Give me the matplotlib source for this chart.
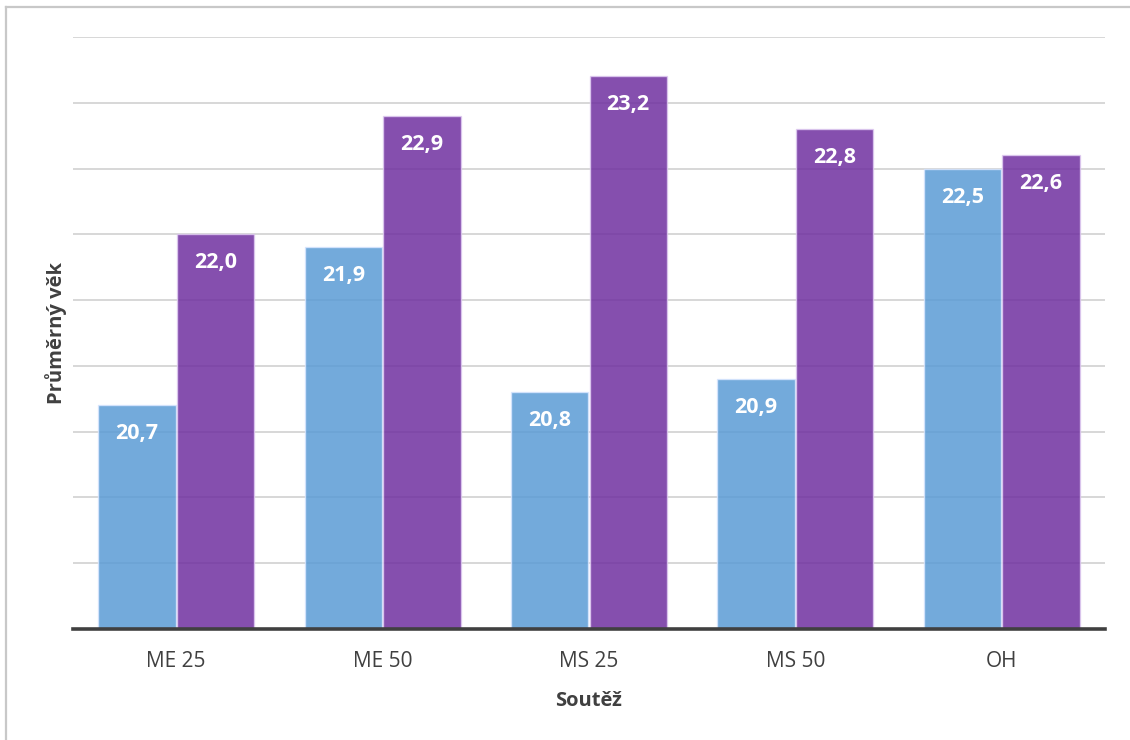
import matplotlib
matplotlib.use("Agg")
import matplotlib.pyplot as plt
from matplotlib.lines import Line2D
import numpy as np

plt.rcParams['font.family'] = ['Open Sans', 'DejaVu Sans']

categories = ["ME 25", "ME 50", "MS 25", "MS 50", "OH"]
series_a = [20.7, 21.9, 20.8, 20.9, 22.5]
series_b = [22.0, 22.9, 23.2, 22.8, 22.6]
y_min, y_max, y_step = 19.0, 23.5, 0.5

W, H, DPI = 1130, 740, 100
fig = plt.figure(figsize=(W / DPI, H / DPI), dpi=DPI)
ax = fig.add_axes([73 / W, 1 - 629 / H, (1105 - 73) / W, (629 - 37) / H])

x = np.arange(len(categories))
bw = 0.375
off = 0.19
blue = (0x5B / 255, 0x9B / 255, 0xD5 / 255, 0.85)
purple = (0x70 / 255, 0x30 / 255, 0xA0 / 255, 0.85)
bars_a = ax.bar(x - off, series_a, bw, bottom=0, color=blue,
                edgecolor=(0.85, 0.9, 1.0, 0.8), linewidth=1.0, zorder=3)
bars_b = ax.bar(x + off, series_b, bw, bottom=0, color=purple,
                edgecolor=(0.88, 0.8, 0.95, 0.8), linewidth=1.0, zorder=3)

for bars, vals in ((bars_a, series_a), (bars_b, series_b)):
    for b, v in zip(bars, vals):
        ax.annotate(f"{v:.1f}".replace(".", ","),
                    xy=(b.get_x() + b.get_width() / 2, v),
                    xytext=(0, -20.5), textcoords="offset points",
                    ha="center", va="center", color="white",
                    fontsize=15.5, fontweight="bold", zorder=4)

ax.set_xlim(-0.5, len(categories) - 0.5)
ax.set_ylim(y_min, y_max)
ax.set_yticks(np.arange(y_min + y_step, y_max + 1e-9, y_step))
ax.yaxis.grid(True, color="#d4d4d4", linewidth=1.3, zorder=0)
ax.tick_params(axis="y", left=False, labelleft=False)
ax.tick_params(axis="x", bottom=False, labelsize=15, labelcolor="#404040", pad=12)
ax.set_xticks(x)
ax.set_xticklabels(categories)
for s in ("top", "right", "left"):
    ax.spines[s].set_visible(False)
ax.spines["bottom"].set_color("#404040")
ax.spines["bottom"].set_linewidth(2.6)
ax.spines["bottom"].set_zorder(5)

ax.set_xlabel("Soutěž", fontsize=14.5, fontweight="bold", color="#404040", labelpad=14)
ax.set_ylabel("Průměrný věk", fontsize=14.5, fontweight="bold", color="#404040", labelpad=4)

# outer frame on the left and top edges
fig.add_artist(Line2D([6 / W, 6 / W], [0, 1 - 7 / H], transform=fig.transFigure,
                      color="#c8c8c8", linewidth=1.6))
fig.add_artist(Line2D([6 / W, 1], [1 - 7 / H, 1 - 7 / H], transform=fig.transFigure,
                      color="#c8c8c8", linewidth=1.6))

fig.savefig("out.png", dpi=DPI, facecolor="white")
